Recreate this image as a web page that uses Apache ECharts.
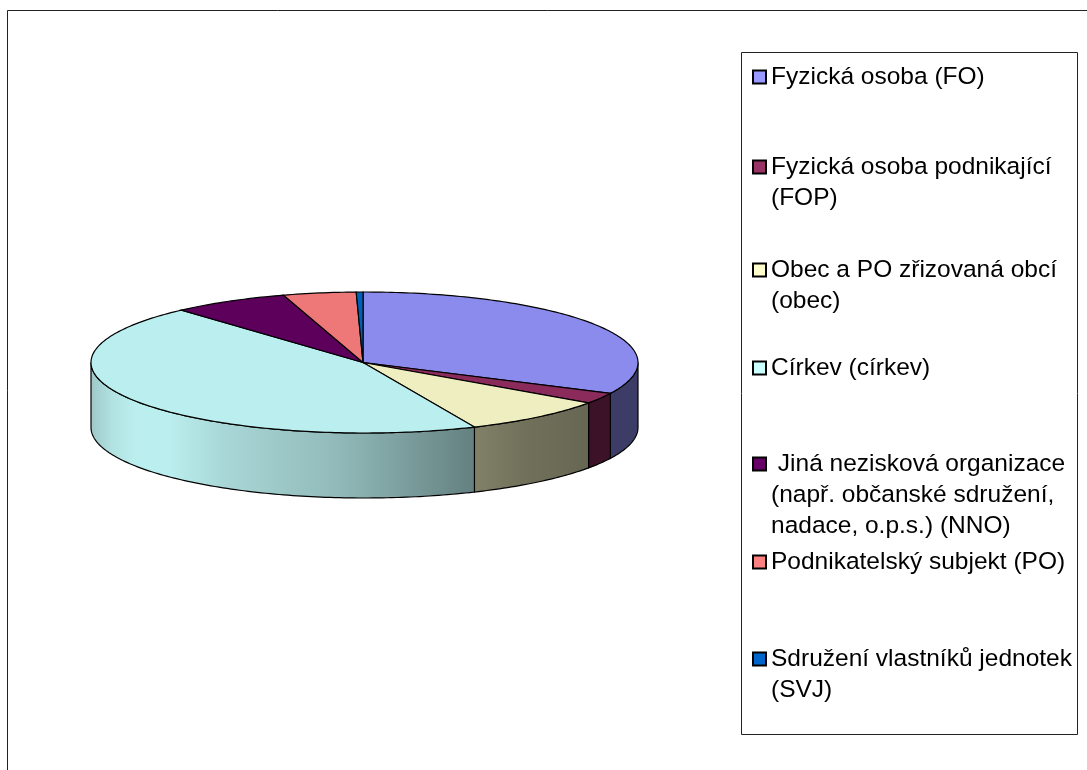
<!DOCTYPE html>
<html><head><meta charset="utf-8">
<style>html,body{margin:0;padding:0;background:#fff;overflow:hidden}#c{width:1087px;height:770px}</style>
<script src="https://cdn.jsdelivr.net/npm/echarts@6/dist/echarts.min.js"></script>
</head><body><div id="c"></div>
<script>
const categories = [
  'Fyzická osoba (FO)',
  'Fyzická osoba podnikající\n(FOP)',
  'Obec a PO zřizovaná obcí\n(obec)',
  'Církev (církev)',
  ' Jiná nezisková organizace\n(např. občanské sdružení,\nnadace, o.p.s.) (NNO)',
  'Podnikatelský subjekt (PO)',
  'Sdružení vlastníků jednotek\n(SVJ)'
];
const shares = [32.3, 2.5, 8.7, 44.9, 6.9, 4.3, 0.4];
const legendColors = ['#9999ff','#993366','#ffffcc','#ccffff','#660066','#ff8080','#0066cc'];
const topColors = ['#8b8bed','#8b2b5c','#eeeec0','#bbeeee','#5c005c','#ee7777','#0060b8'];
const legendRowY = [77, 167, 270, 368, 464, 562, 659];

const CX = 364.5, CY = 362.5, RX = 273.5, RY = 70.5, DEPTH = 65;
const APEX_X = 363, START = -0.3;
const LH = 31;
const total = shares.reduce((a, b) => a + b, 0);
const shadeStops = [[91,.84],[112,.95],[135,1],[170,1],[226,.9],[336,.78],[473,.54],[530,.47],[591,.43],[638,.43]];

function pt(deg, dy) {
  const r = deg * Math.PI / 180;
  return [CX + RX * Math.sin(r), CY - RY * Math.cos(r) + (dy || 0)];
}
function arc(a, b, dy) {
  const pts = [], n = Math.max(2, Math.ceil(Math.abs(b - a)));
  for (let i = 0; i <= n; i++) pts.push(pt(a + (b - a) * i / n, dy));
  return pts;
}
function shaded(hex) {
  const c = [1,3,5].map(i => parseInt(hex.substr(i, 2), 16));
  return {
    type: 'linear', x: CX - RX, y: 0, x2: CX + RX, y2: 0, global: true,
    colorStops: shadeStops.map(s => ({
      offset: (s[0] - (CX - RX)) / (2 * RX),
      color: 'rgb(' + c.map(v => Math.round(v * s[1])).join(',') + ')'
    }))
  };
}
function makeSeries(i) {
  const before = shares.slice(0, i).reduce((a, b) => a + b, 0);
  return {
    name: categories[i],
    type: 'custom',
    coordinateSystem: 'none',
    itemStyle: { color: legendColors[i] },
    data: [[shares[i]]],
    renderItem: function (params, api) {
      const a = START + before / total * 360;
      const b = a + api.value(0) / total * 360;
      const children = [];
      const fa = Math.max(a, 90), fb = Math.min(b, 270);
      if (fb > fa) {
        children.push({
          type: 'polygon',
          shape: { points: arc(fa, fb, 0).concat(arc(fb, fa, DEPTH)) },
          style: { fill: shaded(topColors[i]), stroke: '#000', lineWidth: 1.2 }
        });
      }
      children.push({
        type: 'polygon',
        shape: { points: [[APEX_X, CY]].concat(arc(a, b, 0)) },
        style: { fill: topColors[i], stroke: '#000', lineWidth: 1.2 }
      });
      return { type: 'group', children };
    }
  };
}
function makeLegend(i) {
  const n = categories[i].split('\n').length;
  return {
    left: 752,
    top: legendRowY[i] - (2 * n - 1) * LH / 2,
    padding: 0,
    orient: 'vertical',
    selectedMode: false,
    icon: 'rect',
    itemWidth: 13,
    itemHeight: 13,
    itemStyle: { borderColor: '#000', borderWidth: 2 },
    textStyle: { fontFamily: 'Liberation Sans', fontSize: 24.5, lineHeight: LH, color: '#000' },
    formatter: name => '\n'.repeat(n - 1) + name,
    data: [categories[i]]
  };
}
const chart = echarts.init(document.getElementById('c'), null, { renderer: 'canvas' });
chart.setOption({
  animation: false,
  backgroundColor: '#fff',
  tooltip: { show: false },
  legend: categories.map((_, i) => makeLegend(i)),
  graphic: [
    { type: 'rect', silent: true, z: -1, shape: { x: 7.5, y: 10.5, width: 1200, height: 900 },
      style: { fill: '#fff', stroke: '#222', lineWidth: 1 } },
    { type: 'rect', silent: true, z: -1, shape: { x: 741.5, y: 52.5, width: 336, height: 682 },
      style: { fill: '#fff', stroke: '#222', lineWidth: 1 } }
  ],
  series: categories.map((_, i) => makeSeries(i))
});
</script></body></html>
